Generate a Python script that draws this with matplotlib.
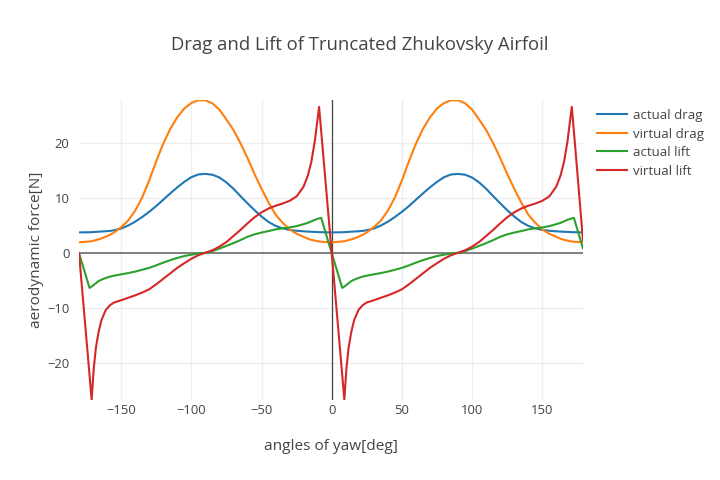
import matplotlib
matplotlib.use("Agg")
import matplotlib.pyplot as plt
import numpy as np

plt.rcParams['font.family'] = ['Open Sans', 'DejaVu Sans']

# angles of yaw [deg]
angles = [-180, -172.5, -171, -169.5, -168, -166, -164, -161, -158, -155, -150, -145, -140, -135,
          -130, -125, -120, -115, -110, -105, -100, -95, -90, -85, -80, -75, -70, -65, -60, -55,
          -50, -45, -40, -35, -30, -25, -20, -17, -14.5, -12, -9, -7.5,
          0, 7.5, 9, 10.5, 12, 14, 16, 19, 22, 25, 30, 35, 40, 45,
          50, 55, 60, 65, 70, 75, 80, 85, 90, 95, 100, 105, 110, 115, 120, 125,
          130, 135, 140, 145, 150, 155, 160, 163, 165.5, 168, 171, 172.5, 179]

actual_drag = [3.75, 3.78, 3.8, 3.82, 3.85, 3.88, 3.92, 3.96, 4.02, 4.15, 4.45, 5.0, 5.7, 6.55,
               7.5, 8.55, 9.7, 10.85, 11.95, 12.95, 13.8, 14.3, 14.4, 14.25, 13.75, 12.85, 11.7, 10.35,
               9.05, 7.8, 6.65, 5.65, 4.95, 4.5, 4.2, 4.05, 3.95, 3.9, 3.87, 3.84, 3.8, 3.79,
               3.75, 3.78, 3.8, 3.82, 3.85, 3.88, 3.92, 3.96, 4.02, 4.15, 4.45, 5.0, 5.7, 6.55,
               7.5, 8.55, 9.7, 10.85, 11.95, 12.95, 13.8, 14.3, 14.4, 14.25, 13.75, 12.85, 11.7, 10.35,
               9.05, 7.8, 6.65, 5.65, 4.95, 4.5, 4.2, 4.05, 3.95, 3.9, 3.87, 3.84, 3.8, 3.79, 3.76]

virtual_drag = [1.95, 2.1, 2.15, 2.25, 2.35, 2.5, 2.65, 2.95, 3.3, 3.75, 4.7, 5.9, 7.7, 10.1,
                13.2, 16.7, 19.9, 22.6, 24.7, 26.3, 27.3, 27.8, 27.8, 27.25, 26.1, 24.3, 22.4, 20.0,
                17.3, 14.4, 11.7, 9.2, 7.0, 5.5, 4.3, 3.5, 2.95, 2.6, 2.4, 2.25, 2.1, 2.05,
                1.95, 2.1, 2.15, 2.25, 2.35, 2.5, 2.65, 2.95, 3.3, 3.75, 4.7, 5.9, 7.7, 10.1,
                13.2, 16.7, 19.9, 22.6, 24.7, 26.3, 27.3, 27.8, 27.8, 27.25, 26.1, 24.3, 22.4, 20.0,
                17.3, 14.4, 11.7, 9.2, 7.0, 5.5, 4.3, 3.5, 2.95, 2.6, 2.4, 2.25, 2.1, 2.05, 1.97]

actual_lift = [0, -6.35, -6.1, -5.8, -5.5, -5.1, -4.85, -4.55, -4.3, -4.12, -3.88, -3.65, -3.38, -3.05,
               -2.7, -2.25, -1.75, -1.3, -0.9, -0.55, -0.3, -0.1, 0.05, 0.35, 0.8, 1.3, 1.8, 2.35,
               2.95, 3.4, 3.72, 4.0, 4.3, 4.5, 4.65, 4.9, 5.25, 5.5, 5.75, 6.05, 6.3, 6.4,
               0, -6.35, -6.1, -5.8, -5.5, -5.1, -4.85, -4.55, -4.3, -4.12, -3.88, -3.65, -3.38, -3.05,
               -2.7, -2.25, -1.75, -1.3, -0.9, -0.55, -0.3, -0.1, 0.05, 0.35, 0.8, 1.3, 1.8, 2.35,
               2.95, 3.4, 3.72, 4.0, 4.3, 4.5, 4.65, 4.9, 5.25, 5.5, 5.75, 6.05, 6.3, 6.4, 0.85]

virtual_lift = [0, -22.2, -26.7, -21.0, -17.3, -14.3, -12.2, -10.4, -9.5, -9.0, -8.6, -8.15, -7.7, -7.2,
                -6.6, -5.7, -4.7, -3.7, -2.7, -1.85, -1.05, -0.4, 0.05, 0.5, 1.15, 2.0, 3.1, 4.2,
                5.4, 6.5, 7.4, 8.1, 8.6, 9.0, 9.5, 10.3, 12.1, 14.1, 16.6, 20.4, 26.6, 22.2,
                0, -22.2, -26.7, -21.0, -17.3, -14.3, -12.2, -10.4, -9.5, -9.0, -8.6, -8.15, -7.7, -7.2,
                -6.6, -5.7, -4.7, -3.7, -2.7, -1.85, -1.05, -0.4, 0.05, 0.5, 1.15, 2.0, 3.1, 4.2,
                5.4, 6.5, 7.4, 8.1, 8.6, 9.0, 9.5, 10.3, 12.1, 14.1, 16.6, 20.4, 26.6, 22.2, 2.3]

series_names = ["actual drag", "virtual drag", "actual lift", "virtual lift"]
colors = ["#1f77b4", "#ff7f0e", "#2ca02c", "#d62728"]
x_ticks = [-150, -100, -50, 0, 50, 100, 150]
y_ticks = [-20, -10, 0, 10, 20]

fig = plt.figure(figsize=(7.2, 4.8), dpi=100)
ax = fig.add_axes([79 / 720, 80 / 480, 504 / 720, 300 / 480])

for name, vals, c in zip(series_names, [actual_drag, virtual_drag, actual_lift, virtual_lift], colors):
    ax.plot(angles, vals, color=c, lw=1.5, label=name, zorder=3, solid_joinstyle='round')

ax.set_xlim(-180, 179)
ax.set_ylim(-26.75, 27.85)
ax.axhline(0, color="#7f7f7f", lw=1.4, zorder=2)
ax.axvline(0, color="#444444", lw=0.9, zorder=2)

ax.set_xticks(x_ticks)
ax.set_yticks(y_ticks)
ax.grid(True, color="#eeeeee", lw=1, zorder=0)
ax.set_axisbelow(True)
for s in ax.spines.values():
    s.set_visible(False)
ax.tick_params(axis='both', length=0, labelsize=9.4, colors="#444444")
ax.tick_params(axis='x', pad=3)
ax.tick_params(axis='y', pad=7)

fig.text(0.5, 1 - 45 / 480, "Drag and Lift of Truncated Zhukovsky Airfoil", ha='center', va='center',
         fontsize=13.3, color="#444444")
fig.text(331 / 720, 1 - 447 / 480, "angles of yaw[deg]", ha='center', va='center', fontsize=11.1, color="#444444")
fig.text(37 / 720, 1 - 250 / 480, "aerodynamic force[N]", ha='center', va='center', rotation=90,
         fontsize=11.1, color="#444444")

fig.legend(loc='upper left', bbox_to_anchor=(597 / 720, 1 - 109 / 480), frameon=False,
           fontsize=9.5, handlelength=2.3, handletextpad=0.45, labelspacing=0.42,
           borderaxespad=0, borderpad=0, labelcolor="#444444")

fig.savefig("out.png", dpi=100)
